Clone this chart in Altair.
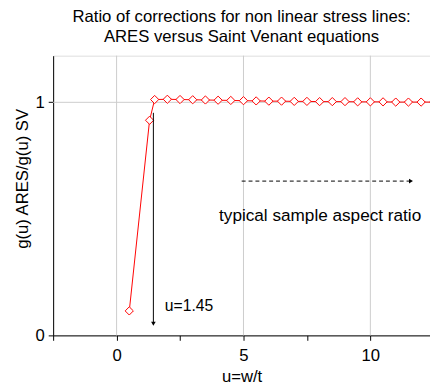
import altair as alt
import pandas as pd

# data
u_vals = [0.5, 1.3, 1.5, 2.0, 2.5, 3.0, 3.5, 4.0, 4.5, 5.0, 5.5, 6.0, 6.5, 7.0,
          7.5, 8.0, 8.5, 9.0, 9.5, 10.0, 10.5, 11.0, 11.5, 12.0, 12.5]
ratio_vals = [0.105, 0.923, 1.012, 1.013, 1.012, 1.011, 1.010, 1.009, 1.008, 1.007,
              1.006, 1.005, 1.005, 1.004, 1.004, 1.003, 1.003, 1.003, 1.002, 1.002,
              1.002, 1.001, 1.001, 1.001, 1.001]
grid_x = [0, 5, 10]
grid_y = [1]
x_ticks = [-2.5, 0, 2.5, 5, 7.5, 10]
y_ticks = [0, 0.5, 1]

FONT = "Liberation Sans"
FS = 17

df = pd.DataFrame({"u": u_vals, "r": ratio_vals})

xscale = alt.Scale(domain=[-2.5, 12.35], nice=False, zero=False)
yscale = alt.Scale(domain=[0, 1.2], nice=False)

xaxis = alt.Axis(values=x_ticks, grid=False, title="u=w/t", format="d",
                 labelExpr="datum.value % 5 === 0 ? datum.label : ''",
                 tickSize=5, tickColor="black", domainColor="black",
                 labelFontSize=FS, titleFontSize=FS, labelFont=FONT, titleFont=FONT,
                 labelColor="black", titleColor="black", titleFontWeight="normal",
                 labelPadding=8, titlePadding=5, titleX=192)
yaxis = alt.Axis(values=y_ticks, grid=False, title="g(u) ARES/g(u) SV", format="d",
                 labelExpr="datum.value % 1 === 0 ? datum.label : ''",
                 tickSize=5, tickColor="black", domainColor="black",
                 labelFontSize=FS, titleFontSize=FS, labelFont=FONT, titleFont=FONT,
                 labelColor="black", titleColor="black", titleFontWeight="normal",
                 labelPadding=4, titleX=-26, titleY=125, titleBaseline="alphabetic",
                 titleAngle=270)

base = alt.Chart(df)

gx = alt.Chart(pd.DataFrame({"x": grid_x})).mark_rule(color="#cccccc", strokeWidth=1).encode(
    x=alt.X("x:Q", scale=xscale, axis=xaxis))
gy = alt.Chart(pd.DataFrame({"y": grid_y})).mark_rule(color="#cccccc", strokeWidth=1).encode(
    y=alt.Y("y:Q", scale=yscale, axis=yaxis))

line = base.mark_line(color="#ff0000", strokeWidth=1).encode(
    x=alt.X("u:Q", scale=xscale, axis=xaxis),
    y=alt.Y("r:Q", scale=yscale, axis=yaxis))
pts = base.mark_point(shape="diamond", size=70, filled=True, fill="white",
                      stroke="#ff0000", strokeWidth=1, opacity=1).encode(
    x=alt.X("u:Q", scale=xscale), y=alt.Y("r:Q", scale=yscale))

# vertical arrow at u=1.45
varrow = pd.DataFrame({"x": [1.45], "y1": [0.955], "y2": [0.05]})
vline = alt.Chart(varrow).mark_rule(color="black", strokeWidth=1).encode(
    x=alt.X("x:Q", scale=xscale), y=alt.Y("y1:Q", scale=yscale), y2="y2:Q")
vhead = alt.Chart(varrow).mark_point(shape="triangle-down", size=22, filled=True,
                                     color="black", opacity=1).encode(
    x=alt.X("x:Q", scale=xscale), y=alt.Y("y2:Q", scale=yscale))

# dashed arrow
harrow = pd.DataFrame({"x1": [4.93], "x2": [11.6], "y": [0.662]})
hline = alt.Chart(harrow).mark_rule(color="black", strokeWidth=1, strokeDash=[4, 3]).encode(
    x=alt.X("x1:Q", scale=xscale), x2="x2:Q", y=alt.Y("y:Q", scale=yscale))
hhead = alt.Chart(harrow).mark_point(shape="triangle-right", size=22, filled=True,
                                     color="black", opacity=1).encode(
    x=alt.X("x2:Q", scale=xscale), y=alt.Y("y:Q", scale=yscale))

labels = pd.DataFrame({"x": [1.9, 8.02], "y": [0.127, 0.51],
                       "t": ["u=1.45", "typical sample aspect ratio"]})
t1 = alt.Chart(labels.iloc[[0]]).mark_text(align="left", baseline="middle", fontSize=16,
                                           font=FONT, color="black").encode(
    x=alt.X("x:Q", scale=xscale), y=alt.Y("y:Q", scale=yscale), text="t:N")
t2 = alt.Chart(labels.iloc[[1]]).mark_text(align="center", baseline="middle", fontSize=17.5,
                                           font=FONT, color="black").encode(
    x=alt.X("x:Q", scale=xscale), y=alt.Y("y:Q", scale=yscale), text="t:N")

chart = alt.layer(gx, gy, line, pts, vline, vhead, hline, hhead, t1, t2).properties(
    width=384, height=285,
    autosize=alt.AutoSizeParams(type="none"),
    padding={"left": 46, "top": 45, "right": 0, "bottom": 50},
    title=alt.TitleParams(
        text=["Ratio of corrections for non linear stress lines:",
              "ARES versus Saint Venant equations"],
        anchor="middle", fontSize=FS, font=FONT, fontWeight="normal",
        color="black", lineHeight=21, offset=9)
).configure_view(stroke="black", strokeWidth=1).configure(background="white")

chart.save("out.html", embed_options={"renderer": "svg", "actions": False})
